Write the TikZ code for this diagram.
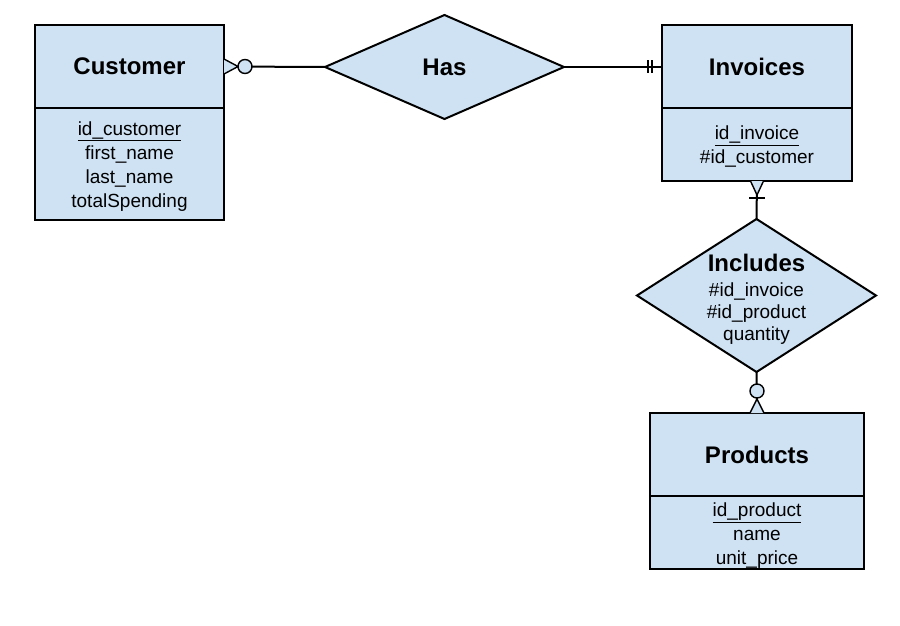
\documentclass[tikz,border=0pt]{standalone}
\usepackage{fontspec}
\setmainfont{Liberation Sans}
\usetikzlibrary{positioning,shapes.geometric}
\definecolor{erblue}{HTML}{CFE2F3}
\newcommand\ertitle{\fontsize{24}{28}\selectfont\bfseries}
\newcommand\erattr{\fontsize{19}{24}\selectfont}
\tikzset{
  enttitle/.style={draw,fill=erblue,line width=2,outer sep=0pt,inner sep=0pt,
    minimum height=83,font=\ertitle},
  entattr/.style={draw,fill=erblue,line width=2,outer sep=0pt,inner sep=0pt,
    align=center,font=\erattr},
  relship/.style={diamond,draw,fill=erblue,line width=2,outer sep=0pt,inner sep=0pt},
  link/.style={line width=2},
  mark end/.style={draw,fill=erblue,line width=1.4}
}
\begin{document}
\begin{tikzpicture}[x=1pt,y=-1pt]
  \useasboundingbox (0,0) rectangle (900,626);
  % entities
  \foreach \nm/\title/\cx/\cy/\w/\ah/\attrs in {
    cust/Customer/129.5/66.5/189/112/{\rule{0pt}{18pt}\underline{id\_customer}\\first\_name\\last\_name\\totalSpending},
    inv/Invoices/757/66.5/190/73/{\rule{0pt}{18pt}\underline{id\_invoice}\\\#id\_customer},
    prod/Products/757/454.5/214/73/{\rule{0pt}{20pt}\underline{id\_product}\\name\\unit\_price}}
  {
    \node[enttitle,minimum width=\w] (\nm) at (\cx,\cy) {\title};
    \node[entattr,minimum width=\w,minimum height=\ah,below=0pt of \nm] (\nm-attr) {\attrs};
  }
  % relationships
  \node[relship,minimum width=239,minimum height=104,font=\ertitle] (has) at (444.5,67) {Has};
  \node[relship,minimum width=239,minimum height=153] (incl) at (756.5,295.5) {};
  \node[align=center,font=\erattr,inner sep=0pt] (incl-text) at (756.5,299)
    {{\ertitle Includes}\\[1pt]\#id\_invoice\\[-2pt]\#id\_product\\[-2pt]quantity};
  % links
  \draw[link] (cust.east) -- (has.west);
  \draw[link] (has.east) -- (inv.west |- has.east);
  \draw[link] (inv-attr.south) -- (incl.north);
  \draw[link] (incl.south) -- (prod.north);
  % Customer: zero or many
  \filldraw[mark end] ([yshift=7.5]cust.east) -- ([xshift=14]cust.east) -- ([yshift=-7.5]cust.east);
  \filldraw[mark end] ([xshift=21]cust.east) circle (7);
  % Invoices: exactly one
  \foreach \dx in {10,14}
    \draw[line width=2.6] ([xshift=-\dx,yshift=6.5]inv.west |- has.east) -- ++(0,13);
  % Invoices -> Includes: one or many
  \filldraw[mark end] ([xshift=-6.5]inv-attr.south) -- ([yshift=-14]inv-attr.south) -- ([xshift=6.5]inv-attr.south);
  \draw[line width=2.6] ([xshift=-8,yshift=-17]inv-attr.south) -- ++(16,0);
  % Products: zero or many
  \filldraw[mark end] ([xshift=-7]prod.north) -- ([yshift=14]prod.north) -- ([xshift=7]prod.north);
  \filldraw[mark end] ([yshift=22]prod.north) circle (7);
\end{tikzpicture}
\end{document}
